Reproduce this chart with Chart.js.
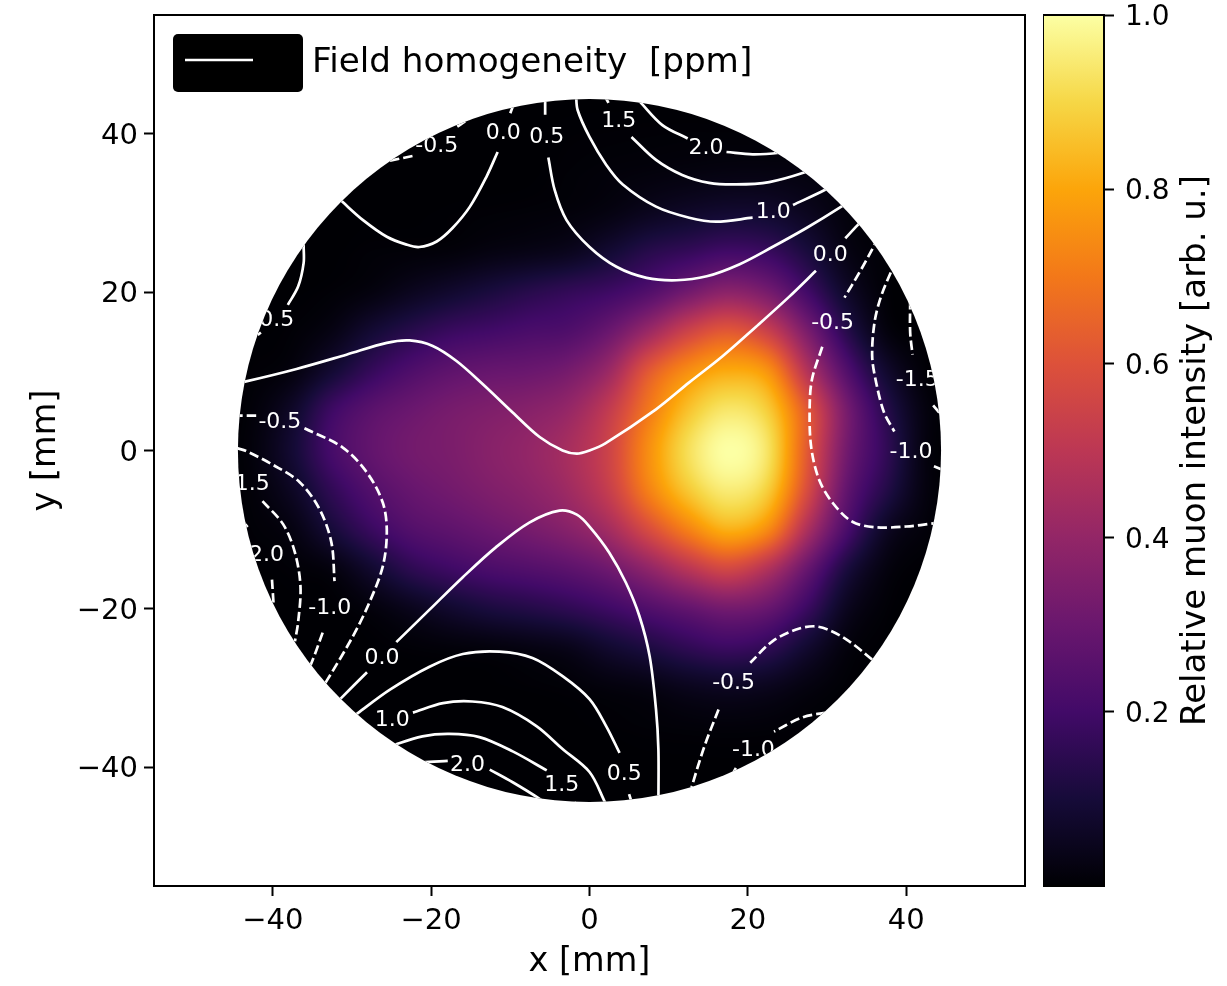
<!DOCTYPE html>
<html>
<head>
<meta charset="utf-8">
<title>Field homogeneity</title>
<script src="https://cdn.jsdelivr.net/npm/chart.js@4"></script>
<style>
  html, body { margin: 0; background: #fff; }
  canvas { position: absolute; top: 0; }
</style>
</head>
<body>
<canvas id="main-chart" width="1227" height="986" style="left:0"></canvas>
<canvas id="colorbar" width="184" height="986" style="left:1043px"></canvas>
<script>
// axis ticks
const xTicks = [-40, -20, 0, 20, 40];
const yTicks = [-40, -20, 0, 20, 40];
const barTicks = [0.2, 0.4, 0.6, 0.8, 1.0];

// muon intensity, mm
const gridX = [-47.5, -42.5, -37.5, -32.5, -27.5, -22.5, -17.5, -12.5, -7.5, -2.5, 2.5, 7.5, 12.5, 17.5, 22.5, 27.5, 32.5, 37.5, 42.5, 47.5];
const gridY = [45, 40, 35, 30, 25, 20, 15, 10, 5, 0, -5, -10, -15, -20, -25, -30, -35, -40, -45];
const intensity = [
  [0,0,0,0,0,0,0,0,0,0,0,0,0,0,0,0,0,0,0,0],
  [0,0,0,0,0,0,0,0,0,0.002,0.003,0.004,0.005,0.005,0.005,0.004,0,0,0,0],
  [0,0,0,0,0,0,0,0,0,0.005,0.01,0.015,0.02,0.025,0.025,0.02,0.01,0,0,0],
  [0,0,0,0,0,0,0.002,0.004,0.007,0.012,0.025,0.05,0.07,0.085,0.08,0.05,0.015,0,0,0],
  [0,0,0,0,0.005,0.008,0.012,0.025,0.035,0.05,0.09,0.14,0.17,0.2,0.18,0.11,0.03,0.005,0,0],
  [0,0,0,0.005,0.02,0.05,0.08,0.11,0.14,0.165,0.19,0.24,0.32,0.38,0.33,0.2,0.07,0.005,0,0],
  [0,0,0.005,0.03,0.09,0.14,0.18,0.2,0.22,0.235,0.3,0.42,0.55,0.62,0.54,0.34,0.14,0.02,0,0],
  [0,0.003,0.02,0.09,0.17,0.23,0.27,0.29,0.3,0.33,0.42,0.62,0.75,0.81,0.76,0.48,0.24,0.08,0.005,0],
  [0,0.01,0.07,0.19,0.26,0.3,0.33,0.35,0.37,0.41,0.52,0.7,0.86,0.94,0.88,0.62,0.33,0.14,0.02,0],
  [0,0.015,0.09,0.21,0.28,0.32,0.34,0.37,0.4,0.45,0.55,0.75,0.92,1.0,0.93,0.62,0.32,0.16,0.02,0],
  [0,0.01,0.06,0.16,0.24,0.29,0.32,0.35,0.38,0.43,0.53,0.72,0.87,0.95,0.88,0.58,0.28,0.13,0.02,0],
  [0,0.005,0.025,0.1,0.18,0.24,0.27,0.3,0.33,0.37,0.44,0.58,0.72,0.82,0.74,0.46,0.22,0.06,0.01,0],
  [0,0,0.005,0.02,0.08,0.15,0.19,0.22,0.24,0.265,0.31,0.39,0.49,0.56,0.47,0.29,0.11,0.02,0,0],
  [0,0,0,0,0.015,0.045,0.08,0.11,0.13,0.155,0.19,0.235,0.28,0.32,0.29,0.18,0.05,0.005,0,0],
  [0,0,0,0,0,0.005,0.01,0.015,0.025,0.04,0.08,0.115,0.155,0.18,0.155,0.08,0.015,0,0,0],
  [0,0,0,0,0,0,0,0,0.002,0.006,0.015,0.025,0.045,0.055,0.045,0.02,0.003,0,0,0],
  [0,0,0,0,0,0,0,0,0,0,0.002,0.005,0.008,0.01,0.008,0.003,0,0,0,0],
  [0,0,0,0,0,0,0,0,0,0,0,0,0,0,0,0,0,0,0,0],
  [0,0,0,0,0,0,0,0,0,0,0,0,0,0,0,0,0,0,0,0]
];
const beamRadius = 44.4;

// inferno
const colorStops = ['#000004', '#160b39', '#420a68', '#6a176e', '#932667', '#bc3754', '#dd513a', '#f37819', '#fca50a', '#f6d746', '#fcffa4'];

// contour pieces, split where the level labels sit
const zeroMidA = [[-46,8.2],[-43.5,8.7],[-37,10.3],[-30.7,12.1],[-25.6,13.6],[-22.7,13.9],[-19.8,13.2],[-16.8,11.3],[-13.5,8.4],[-9.7,4.8],[-6.3,1.7],[-3.4,0],[-1.6,-0.4],[0,0],[2,0.9],[8.4,5.2],[12.6,8.6],[16.8,11.9],[21,15.6],[25.2,19.4],[28.6,22.7]];
const zeroMidB = [[32.3,26.8],[33.8,28.4],[35,29.6]];
const zeroTopA = [[-32.5,32.6],[-31.2,31.4],[-28.6,29.1],[-25.6,27],[-23.1,26],[-21.5,25.7],[-19.3,26.4],[-17.3,28.1],[-15.1,30.8],[-13,34.6],[-11.6,37.7]];
const zeroTopB = [[-10,42.6],[-9.7,43.4],[-9.3,44.6]];
const halfTopA = [[-5.6,45],[-5.6,42.4]];
const halfTopB = [[-5.2,37],[-4.4,32.9],[-2.9,29.1],[0,25.7],[3.4,23.2],[7.2,21.8],[11,21.5],[14.8,22],[18.9,23.5],[23.1,25.7],[27.4,28.1],[31.8,30.8],[33.5,32]];
const oneTopA = [[-1.7,45],[-1.5,43],[0,39.6],[2.1,36.1],[4.2,33.6],[8.4,30.8],[12.6,29.4],[16,28.9],[20.6,29.4]];
const oneTopB = [[25.7,31],[29.7,32.9],[31.5,34]];
const onePointFiveTopA = [[1.8,45],[2.4,43.9]];
const onePointFiveTopB = [[5.3,39.6],[8.4,36.7],[11.7,34.8],[15.1,33.8],[18.5,33.6],[22.7,33.9],[27.1,35.1],[29,36]];
const twoTopA = [[5.5,45],[6.5,43.9],[9.2,41.1],[12.4,39.4]];
const twoTopB = [[17.3,37.7],[20.6,37.4],[24,37.6],[26,38]];
const halfLeftA = [[-36,27],[-36.1,26],[-36.1,23.7],[-36.8,20.7],[-38.1,18.4]];
const halfLeftB = [[-41.9,14.6],[-41.5,14.9]];
const zeroLowA = [[-32.5,-32.4],[-31.4,-31.3],[-28.1,-28]];
const zeroLowB = [[-24.4,-24.2],[-20.2,-20.1],[-16,-16],[-11.8,-12.2],[-7.6,-9.1],[-3.8,-7.6],[-1.6,-8.1],[0,-9.6],[2.5,-12.9],[4.6,-16.7],[6.3,-20.9],[7.6,-26],[8.4,-32.7],[8.7,-37.7],[8.7,-45]];
const halfLowA = [[-31,-34.5],[-29.3,-33.2],[-25.2,-30.2],[-20.2,-27.3],[-16,-25.7],[-11.4,-25.4],[-7.2,-26.2],[-3.4,-28.5],[0,-31.4],[2.1,-34.8],[3.8,-38.2]];
const halfLowB = [[5,-43.4],[5.5,-45]];
const oneLow = [[-22.3,-33.1],[-18.5,-31.9],[-14.8,-31.7],[-11,-32.4],[-6.7,-34.8],[-3.4,-37.7],[0,-40.6],[1.9,-44.3],[2.2,-45]];
const onePointFiveLowA = [[-26,-37.8],[-24.4,-37.1],[-21.1,-36.1],[-17.7,-35.8],[-13.9,-36.2],[-9.7,-38],[-5.4,-40.4]];
const onePointFiveLowB = [[-1.9,-44.4],[-1.5,-45]];
const twoLowA = [[-23,-39.6],[-21.1,-39.4],[-17.9,-39.2]];
const twoLowB = [[-12.6,-40.3],[-9.7,-41.9],[-6.3,-44],[-5,-45]];

const minusHalfTopA = [[-25.2,36.6],[-22.3,37.2]];
const minusHalfTopB = [[-16.7,40.9],[-15.5,41.7],[-14,42.6]];
const minusHalfLeftA = [[-45,4.4],[-42,4.4]];
const minusHalfLeftB = [[-36,2.8],[-31.2,0.4],[-28.1,-2.8],[-26.1,-6.6],[-25.6,-10.3],[-26.1,-14.6],[-27.8,-19.2],[-29.9,-23.5],[-33.2,-29.1],[-34.5,-31]];
const minusOneLeftA = [[-44.5,0.3],[-43.3,-0.1],[-40,-1.8],[-36.6,-4],[-34.1,-7.4],[-32.6,-11.6],[-32.2,-16.5]];
const minusOneLeftB = [[-33.7,-23],[-35.1,-26.8],[-36,-28.5]];
const minusOneHalfLeft = [[-41.3,-6.4],[-38.7,-9.3],[-37.2,-12.9],[-36.5,-17.2],[-36.8,-21.7],[-37.2,-24.1]];
const minusTwoLeftA = [[-44,-8.8],[-43.5,-9.3],[-42.9,-10]];
const minusTwoLeftB = [[-40.1,-16.3],[-39.9,-19.4]];
const minusHalfRightA = [[36.5,27],[35.7,25.4],[34.1,22.5],[32.2,19.3]];
const minusHalfRightB = [[29.4,13.1],[28.1,9],[27.8,5.2],[28,0.4],[29,-3.7],[30.7,-6.6],[33.2,-9],[36.2,-9.7],[40,-9.6],[43.5,-9.2],[45,-9]];
const minusOneRightA = [[38.8,24],[38.1,22.6],[36.8,19.4],[36,16.2],[35.7,11.9],[36.2,8.6],[37.2,4.8],[38.5,2.4]];
const minusOneRightB = [[43.5,-2],[45,-2.6]];
const minusOneHalfRightA = [[40.5,19],[40.5,14.9],[40.8,12.1]];
const minusOneHalfRightB = [[43.4,5.7],[45,3.8]];
const minusHalfLowA = [[37,-27.5],[35.7,-26.4],[32.8,-24.1],[30.3,-22.7],[28.4,-22.2],[26.1,-22.6],[23.1,-24.1],[20.3,-26.8]];
const minusHalfLowB = [[16.3,-32.7],[14.5,-37.4],[12.9,-42.5],[12.5,-44]];
const minusOneLowA = [[31.5,-32.9],[29.9,-33.1],[26.9,-33.7],[23.3,-35.5]];
const minusOneLowB = [[18.5,-40.1],[18.1,-40.8]];

const solidLines = [zeroMidA, zeroMidB, zeroTopA, zeroTopB, halfTopA, halfTopB, oneTopA, oneTopB, onePointFiveTopA, onePointFiveTopB, twoTopA, twoTopB, halfLeftA, halfLeftB, zeroLowA, zeroLowB, halfLowA, halfLowB, oneLow, onePointFiveLowA, onePointFiveLowB, twoLowA, twoLowB];
const dashedLines = [minusHalfTopA, minusHalfTopB, minusHalfLeftA, minusHalfLeftB, minusOneLeftA, minusOneLeftB, minusOneHalfLeft, minusTwoLeftA, minusTwoLeftB, minusHalfRightA, minusHalfRightB, minusOneRightA, minusOneRightB, minusOneHalfRightA, minusOneHalfRightB, minusHalfLowA, minusHalfLowB, minusOneLowA, minusOneLowB];

// inline contour labels: x, y, text
const levelLabels = [
  [30.4,25,'0.0'], [-10.9,40.4,'0.0'], [-26.2,-25.9,'0.0'],
  [-5.4,39.9,'0.5'], [-39.5,16.7,'0.5'], [4.4,-40.6,'0.5'],
  [23.2,30.4,'1.0'], [-24.9,-33.8,'1.0'],
  [3.7,41.9,'1.5'], [-3.5,-42,'1.5'], [-42.6,-4,'1.5'],
  [14.7,38.5,'2.0'], [-15.4,-39.4,'2.0'], [-40.8,-12.9,'2.0'],
  [-19.3,38.7,'-0.5'], [-39.1,3.9,'-0.5'], [30.7,16.4,'-0.5'], [18.2,-29.1,'-0.5'],
  [-32.8,-19.6,'-1.0'], [40.6,0.1,'-1.0'], [20.7,-37.5,'-1.0'],
  [41.4,9.2,'-1.5']
];

const FONT = '"DejaVu Sans"';
const minusSign = v => String(v).replace('-', '\u2212');

function hexRgb(h) {
  return [parseInt(h.slice(1, 3), 16), parseInt(h.slice(3, 5), 16), parseInt(h.slice(5, 7), 16)];
}
const stopsRgb = colorStops.map(hexRgb);

function inferno(v) {
  const t = Math.min(1, Math.max(0, v)) * (stopsRgb.length - 1);
  const i = Math.min(stopsRgb.length - 2, Math.floor(t));
  const f = t - i;
  return [0, 1, 2].map(k => stopsRgb[i][k] + (stopsRgb[i + 1][k] - stopsRgb[i][k]) * f);
}

function cubic(a, b, c, d, t) {
  return b + 0.5 * t * (c - a + t * (2 * a - 5 * b + 4 * c - d + t * (3 * (b - c) + d - a)));
}

function sampleGrid(mx, my) {
  const fx = (mx - gridX[0]) / (gridX[1] - gridX[0]);
  const fy = (gridY[0] - my) / (gridY[0] - gridY[1]);
  const ix = Math.floor(fx), iy = Math.floor(fy);
  const cell = (r, c) => intensity[Math.max(0, Math.min(gridY.length - 1, r))][Math.max(0, Math.min(gridX.length - 1, c))];
  const rows = [-1, 0, 1, 2].map(dr => cubic(cell(iy + dr, ix - 1), cell(iy + dr, ix), cell(iy + dr, ix + 1), cell(iy + dr, ix + 2), fx - ix));
  return cubic(rows[0], rows[1], rows[2], rows[3], fy - iy);
}

// smooth the image once, it only changes with the scales
let heatLayer = null;
function buildHeat(x, y) {
  const left = Math.floor(x.getPixelForValue(-beamRadius)) - 1;
  const right = Math.ceil(x.getPixelForValue(beamRadius)) + 1;
  const top = Math.floor(y.getPixelForValue(beamRadius)) - 1;
  const bottom = Math.ceil(y.getPixelForValue(-beamRadius)) + 1;
  const w = right - left, h = bottom - top;
  const off = document.createElement('canvas');
  off.width = w; off.height = h;
  const c = off.getContext('2d');
  const img = c.createImageData(w, h);
  for (let j = 0; j < h; j++) {
    const my = y.getValueForPixel(top + j + 0.5);
    for (let i = 0; i < w; i++) {
      const rgb = inferno(sampleGrid(x.getValueForPixel(left + i + 0.5), my));
      const p = (j * w + i) * 4;
      img.data[p] = rgb[0]; img.data[p + 1] = rgb[1]; img.data[p + 2] = rgb[2]; img.data[p + 3] = 255;
    }
  }
  c.putImageData(img, 0, 0);
  heatLayer = { off, left, top };
}

function frameBox(chart) {
  const { ctx, chartArea: a } = chart;
  ctx.save();
  ctx.strokeStyle = '#000';
  ctx.lineWidth = 2;
  ctx.strokeRect(a.left, a.top, a.right - a.left, a.bottom - a.top);
  ctx.restore();
}

// tick labels must not push the plot box around
function noLabelPadding(axis) {
  axis.paddingTop = 0;
  axis.paddingBottom = 0;
  axis.paddingLeft = 0;
  axis.paddingRight = 0;
}

const beamPlugin = {
  id: 'beam',
  beforeDatasetsDraw(chart) {
    const { ctx, scales: { x, y } } = chart;
    if (!heatLayer) buildHeat(x, y);
    const cx = x.getPixelForValue(0), cy = y.getPixelForValue(0);
    const r = x.getPixelForValue(beamRadius) - cx;
    ctx.save();
    ctx.beginPath();
    ctx.arc(cx, cy, r, 0, Math.PI * 2);
    ctx.clip();
    ctx.drawImage(heatLayer.off, heatLayer.left, heatLayer.top);
  },
  afterDatasetsDraw(chart) {
    const { ctx, scales: { x, y } } = chart;
    ctx.fillStyle = '#fff';
    ctx.font = '22px ' + FONT;
    ctx.textAlign = 'center';
    ctx.textBaseline = 'middle';
    levelLabels.forEach(l => ctx.fillText(l[2], x.getPixelForValue(l[0]), y.getPixelForValue(l[1]) + 2.5));
    ctx.restore();
  },
  afterDraw(chart) {
    frameBox(chart);
    // legend, the black handle box is how the original has it
    const { ctx } = chart;
    ctx.save();
    ctx.fillStyle = '#000';
    ctx.beginPath();
    ctx.roundRect(173, 34, 130, 58, 5);
    ctx.fill();
    ctx.strokeStyle = '#fff';
    ctx.lineWidth = 2.6;
    ctx.beginPath();
    ctx.moveTo(185, 60);
    ctx.lineTo(253, 60);
    ctx.stroke();
    ctx.fillStyle = '#000';
    ctx.font = '34.2px ' + FONT;
    ctx.textBaseline = 'middle';
    ctx.fillText('Field homogeneity  [ppm]', 312, 63);
    ctx.restore();
  }
};

const toPoints = pts => pts.map(p => ({ x: p[0], y: p[1] }));
const lineSet = (pts, dash) => ({
  data: toPoints(pts),
  showLine: true,
  pointRadius: 0,
  borderColor: '#fff',
  borderWidth: 2.7,
  borderDash: dash,
  tension: 0.33,
  fill: false
});

function axisOptions(title, ticks, thick, tickPad, titlePad) {
  return {
    type: 'linear',
    min: -55,
    max: 55,
    afterBuildTicks: axis => { axis.ticks = ticks.map(v => ({ value: v })); },
    afterFit: axis => {
      if (axis.isHorizontal()) axis.height = thick; else axis.width = thick;
      noLabelPadding(axis);
    },
    border: { display: false },
    grid: { drawOnChartArea: false, drawTicks: true, tickLength: 10, tickWidth: 2, tickColor: '#000' },
    ticks: {
      color: '#000',
      font: { family: FONT, size: 29 },
      padding: tickPad,
      maxRotation: 0,
      autoSkip: false,
      callback: v => minusSign(v)
    },
    title: {
      display: true,
      text: title,
      color: '#000',
      font: { family: FONT, size: 33.5 },
      padding: titlePad
    }
  };
}

// blank first line with a small line height nudges the label down to its tick
const yAxis = axisOptions('y [mm]', yTicks, 154, 6, { top: 26, bottom: 0 });
yAxis.ticks.font.lineHeight = '5px';
yAxis.ticks.callback = v => ['', minusSign(v)];

new Chart(document.getElementById('main-chart').getContext('2d'), {
  type: 'scatter',
  data: {
    datasets: [
      ...solidLines.map(pts => lineSet(pts, [])),
      ...dashedLines.map(pts => lineSet(pts, [9.5, 4]))
    ]
  },
  options: {
    responsive: false,
    animation: false,
    layout: { padding: { top: 15, right: 202, left: 0, bottom: 0 } },
    plugins: { legend: { display: false }, tooltip: { enabled: false } },
    scales: {
      x: axisOptions('x [mm]', xTicks, 100, 8, { top: 0, bottom: 4 }),
      y: yAxis
    }
  },
  plugins: [beamPlugin]
});

// colour bar
const barPlugin = {
  id: 'barFrame',
  afterDraw(chart) {
    frameBox(chart);
    const { ctx, chartArea: a } = chart;
    ctx.save();
    ctx.translate(153, (a.top + a.bottom) / 2);
    ctx.rotate(-Math.PI / 2);
    ctx.fillStyle = '#000';
    ctx.font = '34px ' + FONT;
    ctx.textAlign = 'center';
    ctx.textBaseline = 'middle';
    ctx.fillText('Relative muon intensity [arb. u.]', 0, 0);
    ctx.restore();
  }
};

new Chart(document.getElementById('colorbar').getContext('2d'), {
  type: 'bar',
  data: {
    labels: [''],
    datasets: [{
      data: [1],
      barPercentage: 1,
      categoryPercentage: 1,
      backgroundColor: ctx => {
        const a = ctx.chart.chartArea;
        if (!a) return '#000';
        const g = ctx.chart.ctx.createLinearGradient(0, a.bottom, 0, a.top);
        colorStops.forEach((c, i) => g.addColorStop(i / (colorStops.length - 1), c));
        return g;
      }
    }]
  },
  options: {
    responsive: false,
    animation: false,
    layout: { padding: { top: 15, bottom: 100, left: 0, right: 0 } },
    plugins: { legend: { display: false }, tooltip: { enabled: false } },
    scales: {
      x: { display: false },
      y: {
        position: 'right',
        min: 0,
        max: 1,
        afterBuildTicks: axis => { axis.ticks = barTicks.map(v => ({ value: v })); },
        afterFit: axis => { axis.width = 123; noLabelPadding(axis); },
        border: { display: false },
        grid: { drawOnChartArea: false, drawTicks: true, tickLength: 10, tickWidth: 2, tickColor: '#000' },
        ticks: { color: '#000', font: { family: FONT, size: 28, lineHeight: '6px' }, padding: 11, callback: v => ['', v.toFixed(1)] }
      }
    }
  },
  plugins: [barPlugin]
});
</script>
</body>
</html>
